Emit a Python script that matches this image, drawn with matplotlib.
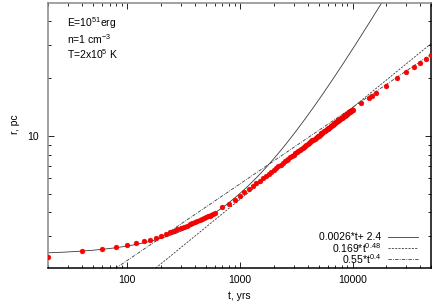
import numpy as np
import matplotlib
matplotlib.use("Agg")
import matplotlib.pyplot as plt
from matplotlib.ticker import NullFormatter, FixedLocator, LogLocator

plt.rcParams['font.family'] = ['Liberation Sans', 'DejaVu Sans']
plt.rcParams['mathtext.default'] = 'regular'

# ---- data ----
t_early = [20, 40, 60, 80, 100, 120, 140, 160, 180, 200, 220, 240, 260, 280, 300,
           320, 340, 360, 380, 400, 420, 440, 460, 480, 500, 520, 540, 560, 580, 600]
r_early = [2.32, 2.51, 2.57, 2.64, 2.70, 2.75, 2.83, 2.87, 2.94, 3.00, 3.07, 3.14, 3.19, 3.25, 3.30,
           3.35, 3.40, 3.45, 3.50, 3.54, 3.59, 3.63, 3.68, 3.72, 3.76, 3.80, 3.84, 3.88, 3.93, 3.98]

t_mid = [700, 800, 900, 1000, 1100, 1200, 1300, 1400, 1500, 1600, 1700, 1800, 1900, 2000,
         2100, 2200, 2300, 2400, 2500, 2600, 2700, 2800, 2900, 3000, 3100, 3200, 3300, 3400,
         3500, 3600, 3700, 3800, 3900, 4000, 4100, 4200, 4300, 4400, 4500, 4600, 4700, 4800,
         4900, 5000, 5100, 5200, 5300, 5400, 5500, 5600, 5700, 5800, 5900, 6000, 6100, 6200,
         6300, 6400, 6500, 6600, 6700, 6800, 6900, 7000, 7100, 7200, 7300, 7400, 7500, 7600,
         7700, 7800, 7900, 8000, 8100, 8200, 8300, 8400, 8500, 8600, 8700, 8800, 8900, 9000,
         9100, 9200, 9300, 9400, 9500, 9600, 9700, 9800, 9900, 10000]
r_mid = [4.25, 4.43, 4.64, 4.86, 5.07, 5.27, 5.46, 5.65, 5.84, 6.02, 6.18, 6.35, 6.50, 6.65,
         6.80, 6.94, 7.08, 7.22, 7.36, 7.49, 7.62, 7.74, 7.86, 7.98, 8.10, 8.22, 8.33, 8.45,
         8.56, 8.67, 8.78, 8.88, 8.99, 9.09, 9.19, 9.29, 9.39, 9.49, 9.58, 9.68, 9.77, 9.87,
         9.96, 10.05, 10.14, 10.23, 10.32, 10.40, 10.49, 10.57, 10.66, 10.74, 10.83, 10.91, 10.99, 11.07,
         11.15, 11.23, 11.31, 11.39, 11.46, 11.54, 11.62, 11.69, 11.77, 11.84, 11.91, 11.99, 12.06, 12.13,
         12.20, 12.27, 12.34, 12.42, 12.48, 12.55, 12.62, 12.69, 12.76, 12.83, 12.89, 12.96, 13.03, 13.09,
         13.16, 13.22, 13.29, 13.35, 13.41, 13.48, 13.54, 13.60, 13.66, 13.73]

t_late = [12000, 14000, 15000, 16000, 20000, 25000, 30000, 35000, 40000, 45000, 50000]
r_late = [14.92, 15.85, 16.23, 16.77, 18.30, 20.00, 21.50, 22.92, 24.04, 25.23, 26.38]

# fit curves
lin_a, lin_b = 0.0026, 2.4
pw1_c, pw1_k = 0.169, 0.48
pw2_c, pw2_k = 0.354, 0.4
fit_labels = ['0.0026*t+ 2.4', '0.169*t$^{0.48}$', '0.55*t$^{0.4}$']

annot = ['E=10$^{51}$erg', 'n=1 cm$^{-3}$', 'T=2x10$^{5}$ K']
xticks = [100, 1000, 10000]
yticks = [10]

W, H = 436, 305
fig = plt.figure(figsize=(W / 100, H / 100), dpi=100)
L, R, T, B = 48.3, 431.3, 3.0, 267.7
ax = fig.add_axes([L / W, 1 - B / H, (R - L) / W, (B - T) / H])
ax.set_xscale('log')
ax.set_yscale('log')
ax.set_xlim(20, 50000)
ax.set_ylim(2.05, 49.5)

tt = np.geomspace(20, 50000, 600)
lc = '#3a3a3a'
ax.plot(tt, lin_a * tt + lin_b, color=lc, lw=0.6, ls='-')
ax.plot(tt, pw1_c * tt ** pw1_k, color=lc, lw=0.6, ls=(0, (2.5, 1.5)))
ax.plot(tt, pw2_c * tt ** pw2_k, color=lc, lw=0.6, ls=(0, (4, 1.5, 1, 1.5)))

t_all = t_early + t_mid + t_late
r_all = r_early + r_mid + r_late
ax.plot(t_all, r_all, ls='none', marker='o', ms=3.5, color='#ff0000',
        markeredgecolor='#e00000', markeredgewidth=0.3, zorder=3)

# axes styling
for side in ['left', 'top']:
    ax.spines[side].set_color('#888888')
for side in ['bottom', 'right']:
    ax.spines[side].set_color('black')
for sp in ax.spines.values():
    sp.set_linewidth(1.1)

ax.xaxis.set_major_locator(FixedLocator(xticks))
ax.yaxis.set_major_locator(FixedLocator(yticks))
ax.xaxis.set_minor_locator(LogLocator(base=10, subs=np.arange(2, 10)))
ax.yaxis.set_minor_locator(LogLocator(base=10, subs=np.arange(2, 10)))
ax.xaxis.set_minor_formatter(NullFormatter())
ax.yaxis.set_minor_formatter(NullFormatter())
ax.set_xticklabels([str(v) for v in xticks])
ax.set_yticklabels([str(v) for v in yticks])
ax.tick_params(which='both', direction='in', top=True, right=True, labelsize=7.5,
               color='black', width=0.6)
ax.tick_params(which='major', length=4.5)
ax.tick_params(which='minor', length=2.5)
ax.tick_params(axis='x', pad=5)
ax.tick_params(axis='y', pad=7)

ax.set_xlabel('t, yrs', fontsize=7.5, va='center')
ax.xaxis.set_label_coords(0.5, -(295.7 - B) / (B - T))
ax.set_ylabel('r, pc', fontsize=7.5, va='center')
ax.yaxis.set_label_coords(-(48.3 - 15) / (R - L), (B - 124) / (B - T))

# annotation
for i, s in enumerate(annot):
    y = 23.5 + 15.5 * i
    ax.text((67 - L) / (R - L), (B - y) / (B - T), s, transform=ax.transAxes,
            ha='left', va='center', fontsize=7.5)

# legend (gnuplot style: text then sample)
styles = ['-', (0, (2.5, 1.5)), (0, (4, 1.5, 1, 1.5))]
for i, (lab, st) in enumerate(zip(fit_labels, styles)):
    y = 237.3 + 11 * i
    ax.text((381 - L) / (R - L), (B - y) / (B - T), lab, transform=ax.transAxes,
            ha='right', va='center', fontsize=7.5)
    ax.plot([(388 - L) / (R - L), (418 - L) / (R - L)], [(B - y) / (B - T)] * 2,
            transform=ax.transAxes, color=lc, lw=0.6, ls=st, clip_on=False)

fig.savefig('out.png', dpi=100)
